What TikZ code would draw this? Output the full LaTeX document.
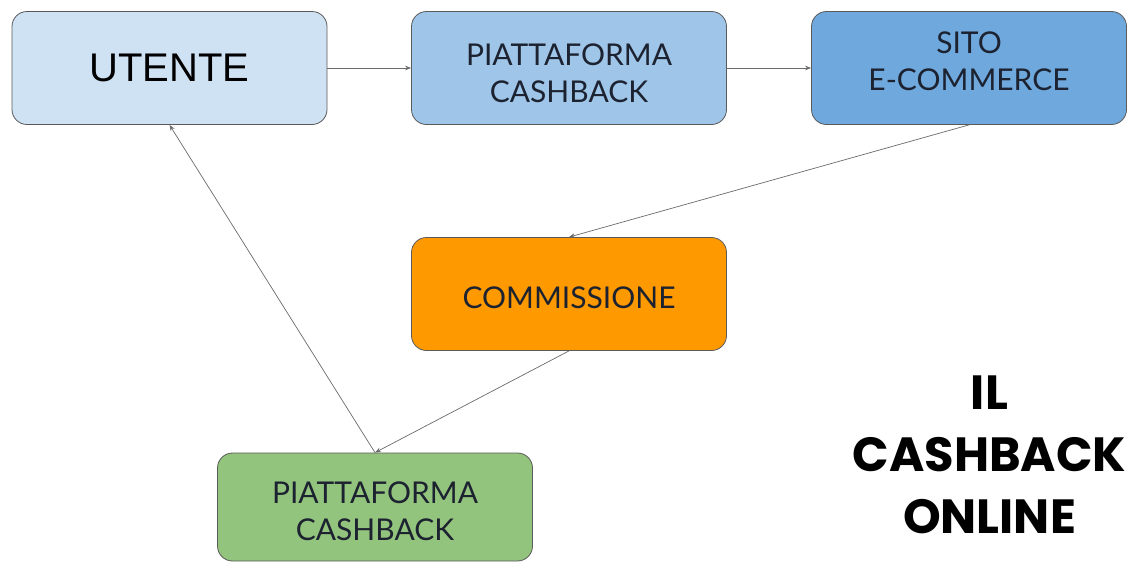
\documentclass[tikz,border=0pt]{standalone}
\usepackage{fontspec}
\setmainfont{Lato}
\newfontfamily\arialf{Liberation Sans}
\newfontfamily\titlef{Poppins}
\usetikzlibrary{arrows.meta}
\definecolor{cA}{HTML}{CFE2F3}
\definecolor{cB}{HTML}{9FC5E8}
\definecolor{cC}{HTML}{6FA8DC}
\definecolor{cO}{HTML}{FF9900}
\definecolor{cG}{HTML}{93C47D}
\definecolor{edge}{HTML}{5A5A5A}
\definecolor{ink}{HTML}{1C2230}
\begin{document}
\begin{tikzpicture}[x=1pt,y=-1pt,
  box/.style={draw=edge,line width=0.8pt,rounded corners=15pt,minimum width=315pt,minimum height=113pt,inner sep=0pt},
  txt/.style={align=center,font=\fontsize{30}{37}\selectfont,text=ink,inner sep=0pt},
  conn/.style={draw=edge!90,line width=0.7pt,-{Stealth[length=6pt,width=4.5pt]}}]
\useasboundingbox (0,0) rectangle (1135,563);
\fill[white] (0,0) rectangle (1135,563);
\node[box,fill=cA,text=black,font=\arialf\fontsize{40}{44}\selectfont] (utente) at (169.5,68) {UTENTE};
\node[box,fill=cB,label={[txt,name=t1,yshift=-5pt]center:PIATTAFORMA\\CASHBACK}] (piatt1) at (569,68) {};
\node[box,fill=cC,label={[txt,name=t2,yshift=7pt]center:SITO\\E-COMMERCE}] (sito) at (969,68) {};
\node[box,fill=cO,label={[txt,name=t3,yshift=-4pt]center:COMMISSIONE}] (comm) at (569,294) {};
\node[box,fill=cG,minimum height=108pt,label={[txt,name=t4,yshift=-4pt]center:PIATTAFORMA\\CASHBACK}] (piatt2) at (375,507) {};
\node[font=\titlef\bfseries\fontsize{48}{62}\selectfont,align=center,inner sep=0pt] (title) at (989.5,455) {IL\\CASHBACK\\ONLINE};
\draw[conn] (utente.east) -- (piatt1.west);
\draw[conn] (piatt1.east) -- (sito.west);
\draw[conn] (sito.south) -- (comm.north);
\draw[conn] (comm.south) -- (piatt2.north);
\draw[conn] (piatt2.north) -- (utente.south);
\end{tikzpicture}
\end{document}
